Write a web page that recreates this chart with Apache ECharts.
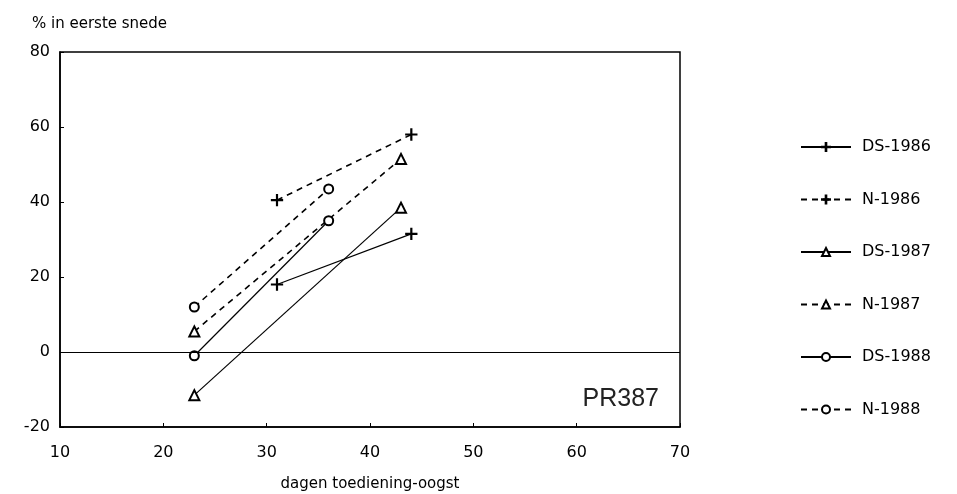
<!DOCTYPE html>
<html>
<head>
<meta charset="utf-8">
<script src="https://cdn.jsdelivr.net/npm/echarts@6/dist/echarts.min.js"></script>
<style>html,body{margin:0;padding:0;background:#fff}#c{width:957px;height:494px}</style>
</head>
<body>
<div id="c"></div>
<script>
// Data
var seriesNames = ['DS-1986', 'N-1986', 'DS-1987', 'N-1987', 'DS-1988', 'N-1988'];
var xDS1986 = [31, 44];  var yDS1986 = [18, 31.5];
var xN1986  = [31, 44];  var yN1986  = [40.5, 58];
var xDS1987 = [23, 43];  var yDS1987 = [-11.5, 38.5];
var xN1987  = [23, 43];  var yN1987  = [5.5, 51.5];
var xDS1988 = [23, 36];  var yDS1988 = [-1, 35];
var xN1988  = [23, 36];  var yN1988  = [12, 43.5];
var xTicks = [10, 20, 30, 40, 50, 60, 70];
var yTicks = [-20, 0, 20, 40, 60, 80];
var titleText = '% in eerste snede';
var xName = 'dagen toediening-oogst';
var tagText = 'PR387';

function pairs(xs, ys) { return xs.map(function (x, i) { return [x, ys[i]]; }); }

var plus = 'path://M4.6,0H5.4V4.6H10V5.4H5.4V10H4.6V5.4H0V4.6H4.6Z';
var FONT = 'DejaVu Sans';
var defs = [
  { d: pairs(xDS1986, yDS1986), sym: plus, size: 11, dash: 'solid' },
  { d: pairs(xN1986, yN1986), sym: plus, size: 11, dash: [6, 5] },
  { d: pairs(xDS1987, yDS1987), sym: 'emptyTriangle', size: 10, dash: 'solid' },
  { d: pairs(xN1987, yN1987), sym: 'emptyTriangle', size: 10, dash: [6, 5] },
  { d: pairs(xDS1988, yDS1988), sym: 'emptyCircle', size: 9, dash: 'solid' },
  { d: pairs(xN1988, yN1988), sym: 'emptyCircle', size: 9, dash: [6, 5] }
];

var series = defs.map(function (s, i) {
  var o = {
    name: seriesNames[i], type: 'line', data: s.d,
    symbol: s.sym, symbolSize: s.size, showSymbol: true,
    lineStyle: { color: '#000', width: s.dash === 'solid' ? 1.2 : 1.6, type: s.dash },
    itemStyle: { color: '#000', borderColor: '#000', borderWidth: 1.3 },
    animation: false, z: 3
  };
  if (i === 0) {
    o.markLine = {
      silent: true, symbol: 'none', animation: false,
      label: { show: false },
      lineStyle: { color: '#000', width: 1.2, type: 'solid' },
      data: [{ yAxis: 0 }]
    };
  }
  return o;
});

var chart = echarts.init(document.getElementById('c'), null, { renderer: 'canvas' });
chart.setOption({
  backgroundColor: '#fff',
  animation: false,
  title: {
    text: titleText, left: 27, top: 12,
    textStyle: { fontFamily: FONT, fontSize: 15, fontWeight: 'normal', color: '#000' }
  },
  grid: {
    left: 60, right: 277, top: 52, bottom: 67,
    containLabel: false, outerBoundsMode: 'none',
    show: true, borderColor: '#000', borderWidth: 1.5, backgroundColor: 'transparent'
  },
  xAxis: {
    type: 'value', min: xTicks[0], max: xTicks[xTicks.length - 1], interval: 10,
    name: xName, nameLocation: 'middle', nameGap: 50,
    nameTextStyle: { fontFamily: FONT, fontSize: 15, color: '#000' },
    axisLine: { show: true, onZero: false, lineStyle: { color: '#000', width: 1.5 } },
    axisTick: { show: true, inside: true, length: 4, lineStyle: { color: '#000' } },
    axisLabel: { fontFamily: FONT, fontSize: 16, color: '#000', margin: 18 },
    splitLine: { show: false }
  },
  yAxis: {
    type: 'value', min: yTicks[0], max: yTicks[yTicks.length - 1], interval: 20,
    axisLine: { show: true, lineStyle: { color: '#000', width: 1.5 } },
    axisTick: { show: true, inside: true, length: 4, lineStyle: { color: '#000' } },
    axisLabel: { fontFamily: FONT, fontSize: 16, color: '#000', margin: 10 },
    splitLine: { show: false }
  },
  legend: {
    orient: 'vertical', left: 795, top: 134,
    itemWidth: 50, itemHeight: 10, itemGap: 36.5,
    data: seriesNames,
    textStyle: { fontFamily: FONT, fontSize: 16, color: '#000', padding: [0, 0, 0, 6] }
  },
  graphic: [{
    type: 'text', right: 957 - 659, top: 387,
    style: { text: tagText, fontFamily: 'Liberation Sans', fontSize: 25, fill: '#222' }
  }],
  series: series
});
</script>
</body>
</html>
